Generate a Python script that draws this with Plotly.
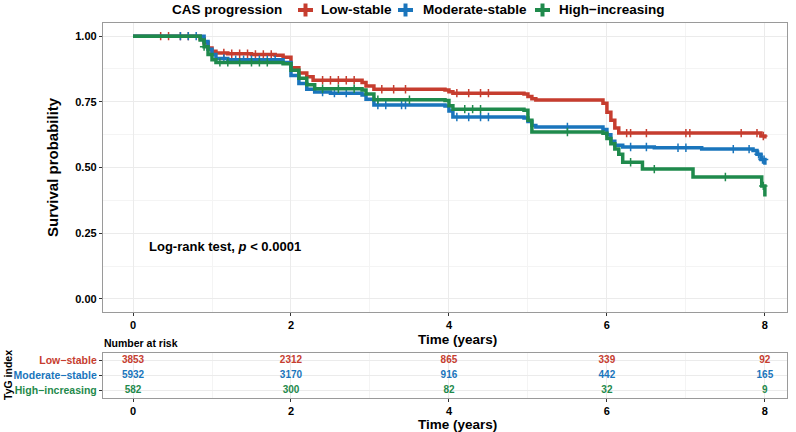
import plotly.graph_objects as go
import numpy as np

# ---- data ----
groups = ["Low-stable", "Moderate-stable", "High-increasing"]
legend_labels = ["Low-stable", "Moderate-stable", "High−increasing"]
colors = ["#C63D2F", "#1A75BC", "#1F8A4C"]

low_t = [0, 0.85, 0.9, 0.95, 1.0, 1.05, 1.2, 1.5, 1.8, 1.9, 2.0, 2.1, 2.2, 2.28, 2.9, 2.95, 3.05,
         3.95, 4.0, 4.05, 4.95, 5.0, 5.05, 5.1, 5.95, 6.0, 6.05, 6.1, 6.15, 7.95, 8.0]
low_s = [1.0, 0.99, 0.975, 0.955, 0.942, 0.936, 0.933, 0.93, 0.927, 0.92, 0.88, 0.86, 0.845, 0.832, 0.824, 0.81, 0.798,
         0.795, 0.788, 0.783, 0.78, 0.77, 0.762, 0.757, 0.745, 0.71, 0.68, 0.65, 0.631, 0.62, 0.61]

mod_t = [0, 0.9, 0.95, 1.0, 1.05, 1.2, 1.9, 2.0, 2.1, 2.2, 2.3, 2.5, 2.9, 2.95, 3.05,
         3.95, 4.0, 4.05, 4.95, 5.0, 5.05, 5.1, 5.95, 6.0, 6.05, 6.1, 6.2, 6.6, 7.2, 7.85, 7.9, 7.95, 8.0]
mod_s = [1.0, 0.98, 0.95, 0.93, 0.915, 0.91, 0.9, 0.85, 0.82, 0.798, 0.787, 0.783, 0.776, 0.76, 0.738,
         0.734, 0.715, 0.692, 0.688, 0.675, 0.66, 0.654, 0.645, 0.625, 0.60, 0.585, 0.578, 0.575, 0.57, 0.565, 0.55, 0.53, 0.51]

high_t = [0, 0.85, 0.9, 0.95, 1.0, 1.05, 1.9, 2.0, 2.1, 2.2, 2.3, 2.9, 2.95, 3.05,
          3.95, 4.0, 4.05, 4.95, 5.0, 5.05, 5.95, 6.0, 6.05, 6.1, 6.15, 6.2, 6.45, 7.09, 7.96, 8.0]
high_s = [1.0, 0.985, 0.96, 0.93, 0.91, 0.90, 0.895, 0.87, 0.84, 0.815, 0.80, 0.795, 0.78, 0.758,
          0.755, 0.735, 0.722, 0.718, 0.68, 0.635, 0.63, 0.61, 0.59, 0.57, 0.55, 0.52, 0.494, 0.464, 0.43, 0.39]

low_cens = [0.35, 0.45, 0.6, 0.7, 1.15, 1.25, 1.35, 1.45, 1.55, 1.65, 1.75, 2.4, 2.5, 2.6, 2.7, 2.8,
            3.15, 3.3, 3.45, 4.1, 4.25, 4.4, 4.5, 6.25, 6.3, 6.5, 7.0, 7.05, 7.7, 7.9, 7.98]
mod_cens = [0.6, 0.7, 0.8, 1.15, 1.3, 1.4, 1.5, 1.6, 1.7, 1.8, 2.4, 2.55, 2.7, 3.1, 3.2, 3.4, 3.45,
            4.1, 4.25, 4.4, 4.5, 5.5, 6.3, 6.5, 6.9, 7.0, 7.6, 7.8, 7.92, 7.97, 7.99]
high_cens = [0.9, 1.1, 1.2, 1.35, 1.5, 1.6, 1.7, 2.4, 2.6, 2.8, 3.1, 3.5, 4.2, 4.3, 4.4,
             5.5, 6.3, 6.6, 7.5, 7.98]

risk_times = [0, 2, 4, 6, 8]
risk_low = [3853, 2312, 865, 339, 92]
risk_mod = [5932, 3170, 916, 442, 165]
risk_high = [582, 300, 82, 32, 9]

x_ticks = [0, 2, 4, 6, 8]
y_ticks = [0.0, 0.25, 0.5, 0.75, 1.0]
y_ticklabels = ["0.00", "0.25", "0.50", "0.75", "1.00"]

# ---- figure ----
W, H = 796, 432
FONT = "Liberation Sans"

def px(x):
    return x / W

def py(y):
    return 1 - y / H

def step_eval(ts, ss, t):
    idx = np.searchsorted(np.array(ts), t, side="right") - 1
    return [ss[i] for i in idx]

fig = go.Figure()
series = [(low_t, low_s, low_cens), (mod_t, mod_s, mod_cens), (high_t, high_s, high_cens)]
for (ts, ss, cs), g, c in zip(series, groups, colors):
    fig.add_trace(go.Scatter(x=ts, y=ss, mode="lines", name=g, line=dict(color=c, width=3.5, shape="hv"),
                             showlegend=False, xaxis="x", yaxis="y"))
    fig.add_trace(go.Scatter(x=cs, y=step_eval(ts, ss, cs), mode="markers", name=g,
                             marker=dict(symbol="cross-thin", size=6, line=dict(color=c, width=1.5)),
                             showlegend=False, xaxis="x", yaxis="y"))

# risk table
rows = [3, 2, 1]
for vals, c, r, g in zip([risk_low, risk_mod, risk_high], colors, rows, groups):
    fig.add_trace(go.Scatter(x=risk_times, y=[r] * len(risk_times), mode="text", name=g,
                             text=[str(v) for v in vals],
                             textfont=dict(color=c, size=10, family=FONT, weight="bold"),
                             showlegend=False, xaxis="x2", yaxis="y2"))

xr = [-0.38, 8.28]
axis_common = dict(showline=True, mirror=True, linecolor="#9A9A9A", linewidth=1.3,
                   ticks="outside", ticklen=3, tickcolor="#333333", tickwidth=1,
                   gridcolor="#EBEBEB", gridwidth=1, zeroline=False, automargin=False,
                   tickfont=dict(family=FONT, size=11, color="black", weight="bold"))

def ann(text, x, y, size, angle=0, xanchor="center"):
    return dict(text=text, x=px(x), y=py(y), xref="paper", yref="paper", xanchor=xanchor,
                yanchor="middle", showarrow=False, textangle=angle,
                font=dict(family=FONT, size=size, color="black", weight="bold"))

annotations = [
    ann("Survival probability", 52, 167, 15, -90),
    ann("Time (years)", 457, 339, 13.5),
    ann("Time (years)", 457, 424, 13.5),
    ann("Number at risk", 102, 343, 10.5, xanchor="left"),
    ann("TyG index", 8, 375, 10.5, -90),
    dict(text="Log-rank test, <i>p</i> < 0.0001", x=0.18, y=0.20, xref="x", yref="y", xanchor="left",
         yanchor="middle", showarrow=False, font=dict(family=FONT, size=13, color="black", weight="bold")),
    ann("CAS progression", 170, 10, 13.5, xanchor="left"),
]

# legend (drawn manually to match the reference spacing)
legend_cross_x = [305.5, 405.5, 542.5]
legend_text_x = [319, 421, 557]
LEG_Y = 10
shapes = []
for cx, tx, lab, c in zip(legend_cross_x, legend_text_x, legend_labels, colors):
    annotations.append(ann(lab, tx, LEG_Y, 13.5, xanchor="left"))
    shapes.append(dict(type="rect", xref="paper", yref="paper", x0=px(cx - 7.5), x1=px(cx + 7.5),
                       y0=py(LEG_Y + 2), y1=py(LEG_Y - 2), fillcolor=c, line=dict(width=0)))
    shapes.append(dict(type="rect", xref="paper", yref="paper", x0=px(cx - 2), x1=px(cx + 2),
                       y0=py(LEG_Y + 6.5), y1=py(LEG_Y - 6.5), fillcolor=c, line=dict(width=0)))

fig.update_layout(
    width=W, height=H, margin=dict(l=0, r=0, t=0, b=0),
    paper_bgcolor="white", plot_bgcolor="white", showlegend=False,
    xaxis=dict(domain=[px(103), px(787)], range=xr, tickvals=x_ticks, anchor="y",
               minor=dict(dtick=1, tick0=0, showgrid=True, gridcolor="#F4F4F4", gridwidth=0.6, ticks=""),
               **axis_common),
    yaxis=dict(domain=[py(312), py(23)], range=[-0.05, 1.05], tickvals=y_ticks,
               ticktext=y_ticklabels, anchor="x",
               minor=dict(dtick=0.125, tick0=0, showgrid=True, gridcolor="#F4F4F4", gridwidth=0.6, ticks=""),
               **axis_common),
    xaxis2=dict(domain=[px(103), px(787)], range=xr, tickvals=x_ticks, anchor="y2",
                minor=dict(dtick=1, tick0=0, showgrid=True, gridcolor="#F4F4F4", gridwidth=0.6, ticks=""),
                **axis_common),
    yaxis2=dict(domain=[py(398), py(353)], range=[0.5, 3.5], tickvals=rows, anchor="x2",
                ticktext=[f"<span style='color:{c}'>{g.replace('-', '−')}</span>" for g, c in zip(groups, colors)],
                **{k: v for k, v in axis_common.items() if k != "tickfont"},
                tickfont=dict(family=FONT, size=10.5, color="black", weight="bold")),
    annotations=annotations,
    shapes=shapes,
)

fig.write_html("out.html", config={"displayModeBar": False},
               post_script="document.body.style.margin='0';document.body.style.overflow='hidden';")
